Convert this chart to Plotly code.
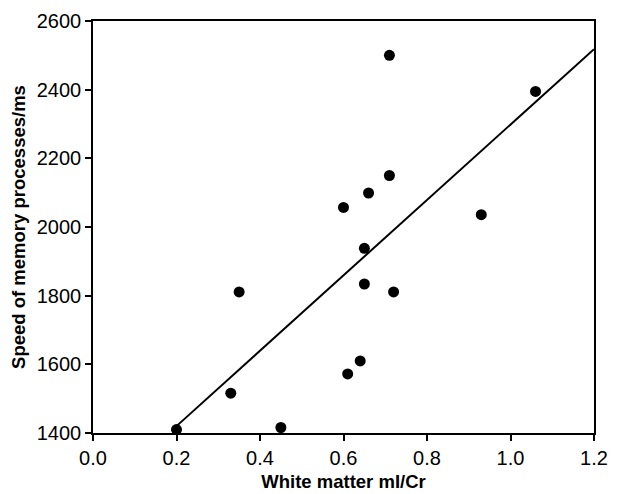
import plotly.graph_objects as go

# white matter mI/Cr ratio vs speed of memory processes
mi_cr = [0.20, 0.33, 0.35, 0.45, 0.60, 0.61, 0.64, 0.65, 0.65, 0.66, 0.71, 0.71, 0.72, 0.93, 1.06]
speed_ms = [1410, 1516, 1811, 1416, 2057, 1572, 1610, 1938, 1834, 2099, 2500, 2150, 1811, 2036, 2395]

# regression line end points
fit_x = [0.2, 1.2]
fit_y = [1420, 2518]

fig = go.Figure()
fig.add_trace(go.Scatter(x=fit_x, y=fit_y, mode="lines",
                         line=dict(color="black", width=2), showlegend=False))
fig.add_trace(go.Scatter(x=mi_cr, y=speed_ms, mode="markers",
                         marker=dict(color="black", size=11), showlegend=False))

axis_common = dict(showline=True, linecolor="black", linewidth=1.5, mirror=True,
                   ticks="outside", ticklen=6, tickwidth=1.5, tickcolor="black",
                   showgrid=False, zeroline=False, automargin=False,
                   tickfont=dict(family="Liberation Sans", size=20, color="black"))

fig.update_xaxes(range=[0, 1.2], dtick=0.2, tickformat=".1f",
                 title=dict(text="<b>White matter mI/Cr</b>", standoff=7,
                            font=dict(family="Liberation Sans", size=18.5, color="black")),
                 **axis_common)
fig.update_yaxes(range=[1400, 2600], dtick=200,
                 title=dict(text="<b>Speed of memory processes/ms</b>", standoff=8,
                            font=dict(family="Liberation Sans", size=18.5, color="black")),
                 **axis_common)

# the page body adds 8px, so margins are offset by that
fig.update_layout(width=617, height=494,
                  margin=dict(l=85, r=31, t=13, b=69),
                  plot_bgcolor="white", paper_bgcolor="white")

fig.write_html("out.html")
